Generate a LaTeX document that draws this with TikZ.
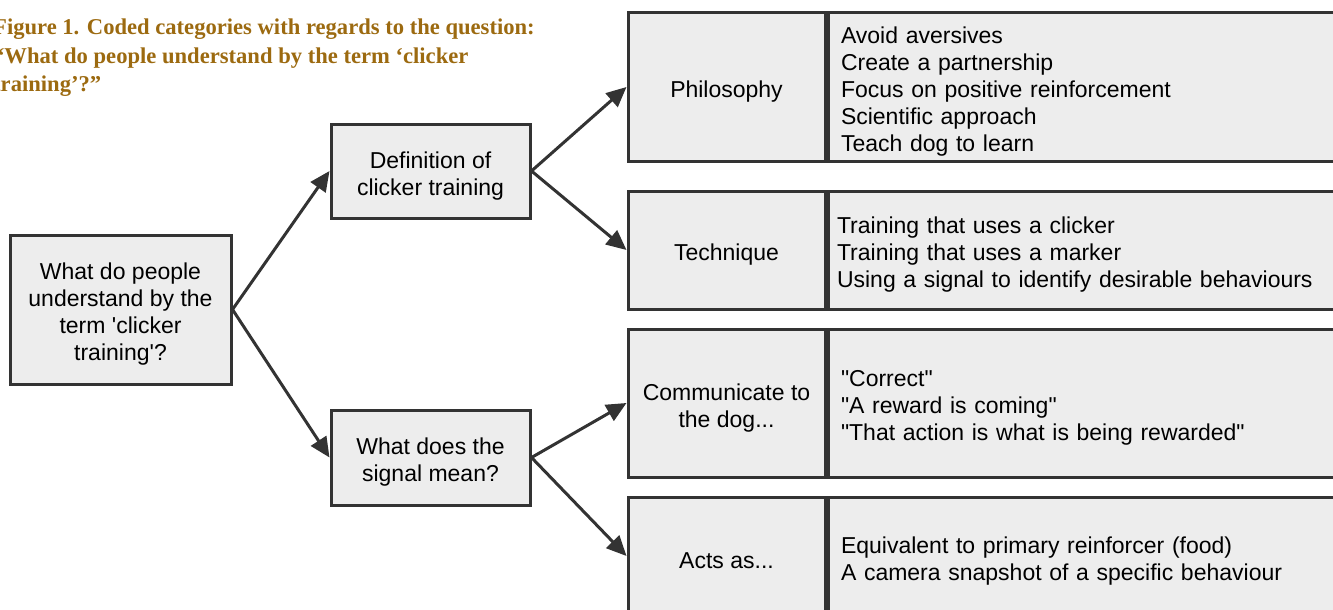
\documentclass[tikz,border=0pt]{standalone}
\usepackage{fontspec}
\setmainfont{Liberation Sans}
\newfontfamily\titlefont{Liberation Serif}
\usetikzlibrary{arrows.meta}
\definecolor{boxfill}{HTML}{EDEDED}
\definecolor{boxline}{HTML}{333333}
\definecolor{titlebrown}{HTML}{9C6A10}
\newcommand\boxstrut{\rule{0pt}{26pt}}

\begin{document}
\begin{tikzpicture}[x=1pt, y=-1pt,
        box/.style={draw=boxline, fill=boxfill, line width=3pt, inner sep=0pt, align=center,
                font=\fontsize{23}{27}\selectfont},
        catbox/.style={box, minimum width=197pt},
        listbox/.style={box, anchor=west, text width=494pt, inner xsep=13pt, align=left},
        link/.style={draw=boxline, line width=3pt, -{Triangle[length=20pt, width=18pt]}}]
    \useasboundingbox (0, 0) rectangle (1333, 610);
    \clip (0, 0) rectangle (1333, 610);
    % Caption
    \node[anchor=north west, inner sep=0pt, align=left, text=titlebrown,
        font=\titlefont\bfseries\fontsize{22.6}{28.5}\selectfont] (title) at (-7, 19)
        {Figure 1. Coded categories with regards to the question:\\
            “What do people understand by the term ‘clicker\\
            training’?”};
    % Question and branches
    \node[box, minimum width=221pt, minimum height=149pt] (root) at (120.5, 309.5)
        {\boxstrut What do people\\understand by the\\term \textquotesingle clicker\\training\textquotesingle?};
    \node[box, minimum width=199pt, minimum height=94pt] (def) at (430.5, 171)
        {\boxstrut Definition of\\clicker training};
    \node[box, minimum width=199pt, minimum height=95pt] (signal) at (430.5, 457.5)
        {\boxstrut What does the\\signal mean?};
    % Categories
    \node[catbox, minimum height=148pt] (phil) at (726.5, 87) {\boxstrut Philosophy};
    \node[listbox, minimum height=148pt] (philList) at (phil.east)
        {\boxstrut Avoid aversives\\Create a partnership\\Focus on positive reinforcement\\Scientific approach\\Teach dog to learn};
    \node[catbox, minimum height=118pt] (tech) at (726.5, 250) {\boxstrut Technique};
    \node[listbox, minimum height=118pt, inner xsep=9pt, text width=502pt] (techList) at (tech.east)
        {\boxstrut Training that uses a clicker\\Training that uses a marker\\Using a signal to identify desirable behaviours};
    \node[catbox, minimum height=148pt] (comm) at (726.5, 403) {\boxstrut Communicate to\\the dog...};
    \node[listbox, minimum height=148pt] (commList) at (comm.east)
        {\boxstrut\textquotedbl Correct\textquotedbl\\\textquotedbl A reward is coming\textquotedbl\\\textquotedbl That action is what is being rewarded\textquotedbl};
    \node[catbox, minimum height=118pt] (acts) at (726.5, 556) {\boxstrut Acts as...};
    \node[listbox, minimum height=118pt] (actsList) at (acts.east)
        {\boxstrut Equivalent to primary reinforcer (food)\\A camera snapshot of a specific behaviour};
    \foreach \a/\b in {root/def, root/signal, def/phil, def/tech, signal/comm, signal/acts} {
            \draw[link] (\a.east) -- (\b.west);
        }
\end{tikzpicture}
\end{document}
